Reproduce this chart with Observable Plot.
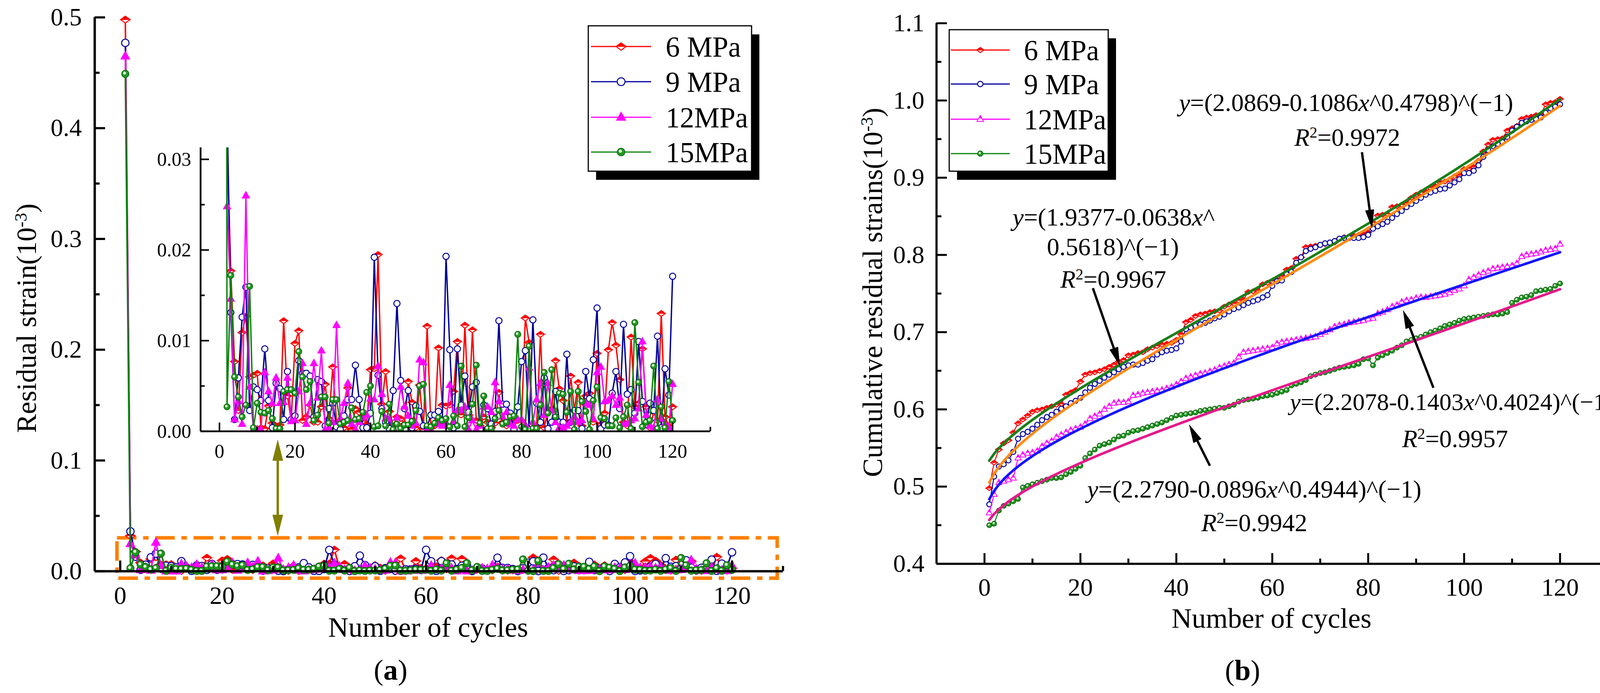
<!DOCTYPE html>
<html><head><meta charset="utf-8">
<script src="https://cdn.jsdelivr.net/npm/d3@7"></script>
<script src="https://cdn.jsdelivr.net/npm/@observablehq/plot@0.6"></script>
<style>
html,body{margin:0;padding:0;background:#fff;}
#page{position:relative;width:4193px;height:1773px;overflow:hidden;background:#fff;font-family:"Liberation Serif","Times New Roman",serif;color:#000;}
</style></head><body><div id="page"></div>
<script>
// ---------------- data ----------------
const cycles = d3.range(1, 121);
const seriesNames = ["6 MPa", "9 MPa", "12MPa", "15MPa"];

// residual strain per cycle (10^-3)
const res6 = [0.498,0.032,0.0177,0.0077,0.0023,0.0109,0.0127,0.0060,0.0062,0.0064,
0.0004,0.0003,0.0028,0.0009,0.0006,0.0007,0.0122,0.0039,0.0012,0.0097,
0.0111,0.0012,0.0016,0.0029,0.0010,0.0010,0.0027,0.0052,0.0014,0.0071,
0.0010,0.0006,0.0004,0.0048,0.0002,0.0025,0.0021,0.0011,0.0008,0.0068,
0.0069,0.0195,0.0030,0.0066,0.0022,0.0006,0.0016,0.0014,0.0008,0.0055,
0.0032,0.0004,0.0051,0.0002,0.0116,0.0004,0.0006,0.0092,0.0029,0.0028,
0.0029,0.0044,0.0099,0.0018,0.0117,0.0018,0.0112,0.0012,0.0006,0.0016,
0.0010,0.0004,0.0009,0.0043,0.0010,0.0006,0.0009,0.0010,0.0012,0.0012,
0.0125,0.0098,0.0002,0.0006,0.0107,0.0004,0.0023,0.0025,0.0078,0.0047,
0.0034,0.0010,0.0061,0.0023,0.0054,0.0006,0.0039,0.0042,0.0010,0.0086,
0.0008,0.0020,0.0090,0.0120,0.0095,0.0057,0.0010,0.0006,0.0104,0.0027,
0.0031,0.0091,0.0027,0.0004,0.0021,0.0012,0.0130,0.0016,0.0006,0.0027];
const res9 = [0.477,0.036,0.0131,0.0013,0.0059,0.0126,0.0159,0.0023,0.0049,0.0046,
0.0034,0.0091,0.0034,0.0004,0.0053,0.0047,0.0013,0.0066,0.0013,0.0017,
0.0078,0.0064,0.0064,0.0061,0.0016,0.0057,0.0055,0.0006,0.0025,0.0031,
0.0005,0.0002,0.0017,0.0035,0.0035,0.0073,0.0035,0.0004,0.0004,0.0020,
0.0192,0.0062,0.0025,0.0010,0.0003,0.0045,0.0141,0.0056,0.0025,0.0045,
0.0004,0.0028,0.0022,0.0006,0.0005,0.0018,0.0018,0.0022,0.0011,0.0193,
0.0090,0.0004,0.0091,0.0029,0.0061,0.0021,0.0049,0.0054,0.0002,0.0029,
0.0025,0.0008,0.0022,0.0122,0.0030,0.0030,0.0020,0.0002,0.0027,0.0077,
0.0089,0.0002,0.0123,0.0031,0.0010,0.0059,0.0003,0.0010,0.0044,0.0010,
0.0010,0.0085,0.0010,0.0023,0.0023,0.0003,0.0066,0.0036,0.0079,0.0136,
0.0003,0.0007,0.0007,0.0042,0.0066,0.0025,0.0118,0.0041,0.0046,0.0020,
0.0099,0.0033,0.0008,0.0031,0.0023,0.0105,0.0004,0.0069,0.0040,0.0171];
const res12 = [0.465,0.0248,0.0146,0.0013,0.0033,0.0008,0.0260,0.0049,0.0002,0.0002,
0.0002,0.0065,0.0044,0.0031,0.0059,0.0031,0.0032,0.0059,0.0011,0.0012,
0.0044,0.0075,0.0008,0.0031,0.0075,0.0037,0.0089,0.0002,0.0004,0.0010,
0.0117,0.0014,0.0031,0.0053,0.0008,0.0002,0.0010,0.0015,0.0018,0.0036,
0.0035,0.0072,0.0041,0.0014,0.0014,0.0004,0.0015,0.0049,0.0027,0.0017,
0.0006,0.0009,0.0079,0.0076,0.0002,0.0002,0.0008,0.0008,0.0006,0.0009,
0.0051,0.0011,0.0023,0.0023,0.0027,0.0002,0.0012,0.0002,0.0006,0.0027,
0.0027,0.0021,0.0054,0.0033,0.0016,0.0021,0.0008,0.0006,0.0013,0.0013,
0.0007,0.0070,0.0010,0.0035,0.0053,0.0018,0.0053,0.0023,0.0010,0.0004,
0.0004,0.0006,0.0010,0.0016,0.0010,0.0012,0.0031,0.0029,0.0014,0.0065,
0.0071,0.0033,0.0034,0.0039,0.0029,0.0037,0.0008,0.0008,0.0012,0.0014,
0.0025,0.0099,0.0018,0.0006,0.0004,0.0035,0.0014,0.0008,0.0004,0.0052];
const res15 = [0.449,0.0027,0.0172,0.0060,0.0038,0.0016,0.0029,0.0160,0.0004,0.0031,
0.0021,0.0020,0.0023,0.0014,0.0003,0.0003,0.0044,0.0046,0.0046,0.0042,
0.0088,0.0060,0.0046,0.0055,0.0012,0.0018,0.0038,0.0038,0.0009,0.0035,
0.0035,0.0008,0.0010,0.0012,0.0026,0.0013,0.0014,0.0021,0.0043,0.0050,
0.0005,0.0006,0.0022,0.0006,0.0030,0.0002,0.0008,0.0003,0.0007,0.0007,
0.0011,0.0023,0.0050,0.0052,0.0006,0.0005,0.0009,0.0015,0.0012,0.0014,
0.0005,0.0017,0.0006,0.0072,0.0005,0.0015,0.0030,0.0073,0.0009,0.0039,
0.0003,0.0003,0.0014,0.0023,0.0008,0.0010,0.0016,0.0017,0.0107,0.0005,
0.0002,0.0094,0.0003,0.0003,0.0029,0.0065,0.0020,0.0068,0.0016,0.0042,
0.0041,0.0021,0.0044,0.0002,0.0044,0.0033,0.0022,0.0002,0.0034,0.0049,
0.0015,0.0014,0.0006,0.0006,0.0015,0.0004,0.0016,0.0029,0.0003,0.0120,
0.0054,0.0005,0.0010,0.0012,0.0072,0.0003,0.0027,0.0004,0.0055,0.0012];

// cumulative residual strain (10^-3)
const cum6 = [0.498,0.531,0.548,0.556,0.560,0.570,0.582,0.587,0.592,0.597,
0.599,0.600,0.602,0.604,0.606,0.607,0.619,0.622,0.625,0.636,
0.645,0.647,0.648,0.650,0.652,0.655,0.658,0.662,0.664,0.670,
0.671,0.673,0.674,0.678,0.680,0.682,0.684,0.685,0.686,0.690,
0.697,0.713,0.716,0.721,0.723,0.724,0.726,0.727,0.728,0.733,
0.736,0.737,0.741,0.742,0.752,0.753,0.754,0.762,0.764,0.766,
0.768,0.772,0.781,0.783,0.795,0.797,0.810,0.811,0.812,0.813,
0.814,0.815,0.816,0.821,0.823,0.824,0.825,0.826,0.827,0.829,
0.842,0.851,0.852,0.853,0.862,0.863,0.865,0.867,0.874,0.878,
0.881,0.882,0.887,0.889,0.894,0.895,0.898,0.902,0.903,0.911,
0.912,0.914,0.922,0.934,0.943,0.949,0.950,0.951,0.961,0.964,
0.967,0.976,0.978,0.979,0.981,0.982,0.995,0.997,0.998,1.002];
const cum9 = [0.477,0.513,0.526,0.529,0.534,0.545,0.562,0.568,0.571,0.575,
0.580,0.586,0.590,0.593,0.597,0.601,0.604,0.608,0.611,0.615,
0.622,0.628,0.633,0.637,0.641,0.645,0.648,0.652,0.655,0.657,
0.658,0.658,0.660,0.663,0.665,0.671,0.674,0.676,0.677,0.679,
0.688,0.704,0.706,0.708,0.710,0.712,0.715,0.718,0.720,0.723,
0.727,0.730,0.732,0.735,0.738,0.740,0.742,0.745,0.748,0.760,
0.766,0.767,0.775,0.778,0.790,0.797,0.805,0.808,0.810,0.813,
0.815,0.816,0.818,0.821,0.822,0.822,0.822,0.822,0.823,0.826,
0.834,0.837,0.840,0.843,0.848,0.853,0.857,0.862,0.866,0.870,
0.874,0.878,0.881,0.883,0.885,0.886,0.890,0.894,0.898,0.906,
0.906,0.909,0.916,0.927,0.936,0.941,0.944,0.946,0.953,0.961,
0.966,0.971,0.973,0.975,0.976,0.978,0.984,0.990,0.992,0.995];
const cum12 = [0.466,0.490,0.505,0.507,0.509,0.511,0.537,0.541,0.543,0.544,
0.546,0.552,0.556,0.559,0.564,0.567,0.570,0.573,0.575,0.577,
0.581,0.588,0.591,0.594,0.600,0.604,0.608,0.609,0.609,0.610,
0.618,0.619,0.621,0.622,0.623,0.624,0.625,0.627,0.629,0.632,
0.636,0.640,0.642,0.644,0.646,0.647,0.649,0.651,0.654,0.656,
0.658,0.660,0.668,0.674,0.675,0.676,0.677,0.678,0.679,0.680,
0.685,0.687,0.688,0.689,0.690,0.691,0.692,0.693,0.694,0.697,
0.700,0.703,0.707,0.709,0.710,0.712,0.713,0.714,0.715,0.717,
0.718,0.724,0.726,0.729,0.733,0.735,0.739,0.741,0.742,0.744,
0.745,0.745,0.746,0.747,0.748,0.749,0.751,0.754,0.756,0.760,
0.768,0.771,0.774,0.777,0.779,0.782,0.783,0.784,0.785,0.786,
0.789,0.798,0.800,0.801,0.802,0.804,0.806,0.807,0.808,0.814];
const cum15 = [0.450,0.452,0.469,0.475,0.478,0.481,0.484,0.499,0.501,0.503,
0.505,0.507,0.509,0.511,0.511,0.512,0.516,0.519,0.523,0.527,
0.537,0.543,0.548,0.553,0.555,0.557,0.561,0.565,0.566,0.570,
0.572,0.573,0.575,0.577,0.579,0.581,0.583,0.586,0.589,0.592,
0.593,0.594,0.595,0.596,0.598,0.599,0.600,0.601,0.602,0.602,
0.604,0.606,0.610,0.612,0.613,0.614,0.615,0.617,0.618,0.619,
0.621,0.623,0.625,0.631,0.633,0.635,0.638,0.643,0.645,0.647,
0.648,0.650,0.652,0.654,0.655,0.656,0.657,0.659,0.665,0.666,
0.657,0.667,0.670,0.673,0.676,0.680,0.683,0.688,0.690,0.692,
0.694,0.697,0.700,0.702,0.705,0.708,0.710,0.712,0.715,0.717,
0.718,0.719,0.720,0.721,0.722,0.723,0.723,0.724,0.726,0.738,
0.742,0.745,0.746,0.748,0.753,0.754,0.755,0.756,0.760,0.763];

// fitted curves y = (a - b x^c)^(-1), as printed on the chart
const fitA = [2.0869, 1.9377, 2.2078, 2.2790];
const fitB = [0.1086, 0.0638, 0.1403, 0.0896];
const fitC = [0.4798, 0.5618, 0.4024, 0.4944];
const fitR2 = ["0.9972", "0.9967", "0.9957", "0.9942"];

// tick values
const xMajor = [0, 20, 40, 60, 80, 100, 120];
const xMinor = [10, 30, 50, 70, 90, 110, 130];
const yMajorA = [0, 0.1, 0.2, 0.3, 0.4, 0.5];
const yMinorA = [0.05, 0.15, 0.25, 0.35, 0.45];
const yMajorInset = [0, 0.01, 0.02, 0.03];
const yMinorInset = [0.005, 0.015, 0.025];
const yMajorB = [0.4, 0.5, 0.6, 0.7, 0.8, 0.9, 1.0, 1.1];
const yMinorB = [0.45, 0.55, 0.65, 0.75, 0.85, 0.95, 1.05];

// ---------------- styles ----------------
const colors = ["#FF0000", "#00009C", "#FF00FF", "#0A820A"];
const kindsA = ["diamond", "circle", "triangle", "ball"];
const kindsB = ["diamond", "circle", "triangleHalf", "ball"];
const fitColors = ["#FF8A14", "#197F19", "#1414FF", "#E5198A"];
const FONT = '"Liberation Serif","Times New Roman",serif';

const rows = (vals) => vals.map((v, i) => ({cycle: cycles[i], value: v}));
const resRows = [res6, res9, res12, res15].map(rows);
const cumRows = [cum6, cum9, cum12, cum15].map(rows);
const fitRows = fitA.map((a, k) => cycles.map(c => ({cycle: c, value: 1 / (a - fitB[k] * Math.pow(c, fitC[k]))})));

const sym = {
  diamond: {draw(c, s) { const r = Math.sqrt(s / Math.PI) * 1.3; c.moveTo(0, -r * 0.72); c.lineTo(r, 0); c.lineTo(0, r * 0.72); c.lineTo(-r, 0); c.closePath(); }},
  diamondTop: {draw(c, s) { const r = Math.sqrt(s / Math.PI) * 1.3; c.moveTo(-r, 0); c.lineTo(0, -r * 0.72); c.lineTo(r, 0); c.closePath(); }},
  triangle: {draw(c, s) { const r = Math.sqrt(s / Math.PI) * 1.35; c.moveTo(0, -r); c.lineTo(r * 0.9, r * 0.6); c.lineTo(-r * 0.9, r * 0.6); c.closePath(); }},
  triangleTop: {draw(c, s) { const r = Math.sqrt(s / Math.PI) * 1.35; c.moveTo(0, -r); c.lineTo(r * 0.45, -r * 0.2); c.lineTo(-r * 0.45, -r * 0.2); c.closePath(); }},
  circle: {draw(c, s) { const r = Math.sqrt(s / Math.PI); c.moveTo(r, 0); c.arc(0, 0, r, 0, 2 * Math.PI); }},
  shine: {draw(c, s) { const r = Math.sqrt(s / Math.PI); const cx = -0.2 * r, cy = -0.22 * r, rr = 0.4 * r; c.moveTo(cx + rr, cy); c.arc(cx, cy, rr, 0, 2 * Math.PI); }}
};

function layers(kind, color) {
  switch (kind) {
    case "diamond": return [[sym.diamond, "#fff", color, 2.5], [sym.diamondTop, color, color, 1.5]];
    case "circle": return [[sym.circle, "#fff", color, 2.5]];
    case "triangle": return [[sym.triangle, color, color, 1.5]];
    case "triangleHalf": return [[sym.triangle, "#fff", color, 2], [sym.triangleTop, color, "none", 0]];
    case "ball": return [[sym.circle, "#1F9A1F", "#0A5A0A", 1.5], [sym.shine, "#E6F5E6", "none", 0]];
  }
}
function markers(data, kind, color, r, extra = {}) {
  return layers(kind, color).map(([s, f, st, sw]) =>
    Plot.dot(data, {x: "cycle", y: "value", r, symbol: s, fill: f, stroke: st, strokeWidth: sw, ...extra}));
}

function axes(o) {
  return [
    Plot.axisX(o.xMajor, {anchor: "bottom", tickSize: -o.majorLen, tickFormat: () => "", strokeWidth: o.sw, label: null}),
    Plot.axisX(o.xMinor, {anchor: "bottom", tickSize: -o.minorLen, tickFormat: () => "", strokeWidth: o.sw, label: null}),
    Plot.axisX(o.xMajor, {anchor: "bottom", tickSize: 0, tickPadding: o.xPad, tickFormat: d => String(d), fontSize: o.fontSize, label: null}),
    Plot.axisY(o.yMajor, {anchor: "left", tickSize: -o.majorLen, tickFormat: () => "", strokeWidth: o.sw, label: null}),
    Plot.axisY(o.yMinor, {anchor: "left", tickSize: -o.minorLen, tickFormat: () => "", strokeWidth: o.sw, label: null}),
    Plot.axisY(o.yMajor, {anchor: "left", tickSize: 0, tickPadding: o.yPad, tickFormat: o.yFmt, fontSize: o.fontSize, label: null})
  ];
}

function arrowMarks(sx, sy, a, color, shaftW, headLen, headW) {
  const P1 = [sx.apply(a.x1), sy.apply(a.y1)], P2 = [sx.apply(a.x2), sy.apply(a.y2)];
  const inv = p => ({x: sx.invert(p[0]), y: sy.invert(p[1])});
  const head = (from, tip) => {
    const dx = tip[0] - from[0], dy = tip[1] - from[1], L = Math.hypot(dx, dy);
    const ux = dx / L, uy = dy / L, nx = -uy, ny = ux;
    const b = [tip[0] - ux * headLen, tip[1] - uy * headLen];
    return {base: b, poly: [tip, [b[0] + nx * headW / 2, b[1] + ny * headW / 2], [b[0] - nx * headW / 2, b[1] - ny * headW / 2], tip].map(inv)};
  };
  const h2 = head(P1, P2);
  let start = P1; const marks = [];
  if (a.double) { const h1 = head(P2, P1); start = h1.base; marks.push(Plot.line(h1.poly, {x: "x", y: "y", fill: color, stroke: color, strokeWidth: 1})); }
  const s = inv(start), e = inv(h2.base);
  marks.unshift(Plot.link([{x1: s.x, y1: s.y, x2: e.x, y2: e.y}], {x1: "x1", y1: "y1", x2: "x2", y2: "y2", stroke: color, strokeWidth: shaftW}));
  marks.push(Plot.line(h2.poly, {x: "x", y: "y", fill: color, stroke: color, strokeWidth: 1}));
  return marks;
}

const page = document.getElementById("page");
function place(svg, left, top) {
  svg.style.position = "absolute"; svg.style.left = left + "px"; svg.style.top = top + "px";
  page.appendChild(svg);
}
const baseStyle = {fontFamily: FONT, background: "transparent", overflow: "visible", maxWidth: "none"};

// ---------------- panel (a) main ----------------
const A = {w: 2060, h: 1773, ml: 242, mr: 56, mt: 44, mb: 312, xd: [-5, 130], yd: [0, 0.5]};
const sxA = Plot.scale({x: {domain: A.xd, range: [A.ml, A.w - A.mr]}});
const syA = Plot.scale({y: {domain: A.yd, range: [A.h - A.mb, A.mt]}});
const zoomBox = [{x1: -0.6, x2: 128.9, y1: -0.0064, y2: 0.030}];
const zoomArrow = {x1: 30.9, y1: 0.1183, x2: 30.9, y2: 0.0325, double: true};

const mainA = Plot.plot({
  width: A.w, height: A.h, marginLeft: A.ml, marginRight: A.mr, marginTop: A.mt, marginBottom: A.mb,
  x: {domain: A.xd, axis: null}, y: {domain: A.yd, axis: null},
  style: baseStyle,
  marks: [
    Plot.rect(zoomBox, {x1: "x1", x2: "x2", y1: "y1", y2: "y2", fill: "none", stroke: "#FF8000", strokeWidth: 9, strokeDasharray: "50,17,14,17"}),
    ...arrowMarks(sxA, syA, zoomArrow, "#7F7F00", 6, 52, 26),
    ...resRows.flatMap((d, k) => [
      Plot.line(d, {x: "cycle", y: "value", stroke: colors[k], strokeWidth: 4}),
      ...markers(d, kindsA[k], colors[k], 9.5)
    ]),
    Plot.ruleX([A.xd[0]], {strokeWidth: 6}),
    Plot.ruleY([A.yd[0]], {strokeWidth: 6}),
    ...axes({xMajor, xMinor, yMajor: yMajorA, yMinor: yMinorA, majorLen: 27, minorLen: 13, sw: 5.5, xPad: 38, yPad: 33, fontSize: 64, yFmt: d3.format(".1f")})
  ]
});
place(mainA, 0, 0);

// ---------------- panel (a) inset ----------------
const I = {w: 1500, h: 950, ml: 113, mr: 82, mt: 77, mb: 147, xd: [-5, 130], yd: [0, 0.0313]};
const inset = Plot.plot({
  width: I.w, height: I.h, marginLeft: I.ml, marginRight: I.mr, marginTop: I.mt, marginBottom: I.mb,
  x: {domain: I.xd, axis: null}, y: {domain: I.yd, axis: null},
  style: baseStyle,
  marks: [
    ...resRows.flatMap((d, k) => [
      Plot.line(d, {x: "cycle", y: "value", stroke: colors[k], strokeWidth: 3.5, clip: true}),
      ...markers(d, kindsA[k], colors[k], 8, {clip: true})
    ]),
    Plot.ruleX([I.xd[0]], {strokeWidth: 4.5}),
    Plot.ruleY([I.yd[0]], {strokeWidth: 4.5}),
    ...axes({xMajor, xMinor, yMajor: yMajorInset, yMinor: yMinorInset, majorLen: 22, minorLen: 11, sw: 4, xPad: 32, yPad: 24, fontSize: 50, yFmt: d3.format(".2f")})
  ]
});
place(inset, 400, 300);

// ---------------- panel (b) ----------------
const B = {left: 2150, w: 2043, h: 1773, ml: 247, mr: 77, mt: 59, mb: 331, xd: [-10, 130], yd: [0.4, 1.1]};
const sxB = Plot.scale({x: {domain: B.xd, range: [B.ml, B.w - B.mr]}});
const syB = Plot.scale({y: {domain: B.yd, range: [B.h - B.mb, B.mt]}});
const fitArrows = [
  {x1: 78.7, y1: 0.933, x2: 80.8, y2: 0.835},
  {x1: 22.6, y1: 0.757, x2: 28.2, y2: 0.657},
  {x1: 93.6, y1: 0.628, x2: 87.3, y2: 0.728},
  {x1: 47.0, y1: 0.527, x2: 42.7, y2: 0.580}
];
const panelB = Plot.plot({
  width: B.w, height: B.h, marginLeft: B.ml, marginRight: B.mr, marginTop: B.mt, marginBottom: B.mb,
  x: {domain: B.xd, axis: null}, y: {domain: B.yd, axis: null},
  style: baseStyle,
  marks: [
    ...cumRows.flatMap((d, k) => [
      Plot.line(d, {x: "cycle", y: "value", stroke: colors[k], strokeWidth: 2.5}),
      ...markers(d, kindsB[k], colors[k], 6.5)
    ]),
    ...fitRows.map((d, k) => Plot.line(d, {x: "cycle", y: "value", stroke: fitColors[k], strokeWidth: 6.5})),
    ...fitArrows.flatMap(a => arrowMarks(sxB, syB, a, "#000", 6, 46, 22)),
    Plot.ruleX([B.xd[0]], {strokeWidth: 5.5}),
    Plot.ruleY([B.yd[0]], {strokeWidth: 5.5}),
    ...axes({xMajor, xMinor, yMajor: yMajorB, yMinor: yMinorB, majorLen: 27, minorLen: 13, sw: 5, xPad: 36, yPad: 31, fontSize: 64, yFmt: d3.format(".1f")})
  ]
});
place(panelB, B.left, 0);

// ---------------- overlay: legends and text ----------------
const ov = d3.select(page).append("svg").attr("width", 4193).attr("height", 1773)
  .style("position", "absolute").style("left", "0px").style("top", "0px");
function drawLegend(L, kinds) {
  const g = ov.append("g");
  g.append("rect").attr("x", L.x + 20).attr("y", L.y + 22).attr("width", L.w).attr("height", L.h).attr("fill", "#000");
  g.append("rect").attr("x", L.x).attr("y", L.y).attr("width", L.w).attr("height", L.h).attr("fill", "#fff").attr("stroke", "#000").attr("stroke-width", 3);
  seriesNames.forEach((name, k) => {
    const cy = L.rows[k];
    g.append("line").attr("x1", L.l0).attr("x2", L.l1).attr("y1", cy).attr("y2", cy).attr("stroke", colors[k]).attr("stroke-width", 3);
    layers(kinds[k], colors[k]).forEach(([s, f, st, sw]) => {
      g.append("path").attr("transform", `translate(${(L.l0 + L.l1) / 2},${cy})`)
        .attr("d", d3.symbol(s, L.r * L.r * Math.PI)()).attr("fill", f).attr("stroke", st).attr("stroke-width", sw);
    });
    g.append("text").attr("x", L.tx).attr("y", cy).attr("dy", "0.35em").attr("font-family", FONT).attr("font-size", 73).text(name);
  });
}
drawLegend({x: 1506, y: 66, w: 418, h: 372, rows: [119, 209, 300, 389], l0: 1513, l1: 1667, tx: 1704, r: 10}, kindsA);
drawLegend({x: 2430, y: 76, w: 407, h: 362, rows: [128, 215, 305, 393], l0: 2434, l1: 2585, tx: 2621, r: 7}, kindsB);

// rich text: segments [text, style] with style "i", "b", "sup" or ""
function rich(segs, x, y, size, opts = {}) {
  const t = ov.append("text").attr("x", x).attr("y", y).attr("dy", "0.35em")
    .attr("text-anchor", opts.anchor || "middle").attr("font-family", FONT).attr("font-size", size).attr("fill", "#000");
  if (opts.rotate) t.attr("transform", `rotate(-90 ${x} ${y})`);
  let shift = 0;
  segs.forEach(([s, st]) => {
    const ts = t.append("tspan").text(s);
    if (st === "i") ts.attr("font-style", "italic");
    if (st === "b") ts.attr("font-weight", "bold");
    if (st === "sup") { ts.attr("font-size", size * 0.62).attr("dy", -size * 0.33); shift = size * 0.33; }
    else if (shift) { ts.attr("dy", shift); shift = 0; }
  });
  return t;
}
rich([["Residual strain(10", ""], ["-3", "sup"], [")", ""]], 67, 814, 72, {rotate: true});
rich([["Number of cycles", ""]], 1096, 1604, 72);
rich([["(", ""], ["a", "b"], [")", ""]], 1000, 1713, 74);
rich([["Cumulative residual strains(10", ""], ["-3", "sup"], [")", ""]], 2233, 748, 72, {rotate: true});
rich([["Number of cycles", ""]], 3255, 1581, 72);
rich([["(", ""], ["b", "b"], [")", ""]], 3181, 1714, 74);

const eq = (k) => [["y", "i"], [`=(${fitA[k].toFixed(4)}-${fitB[k].toFixed(4)}`, ""], ["x", "i"], [`^${fitC[k].toFixed(4)})^(\u22121)`, ""]];
const r2 = k => [["R", "i"], ["2", "sup"], ["=" + fitR2[k], ""]];
rich(eq(0), 3446, 262, 64);
rich(r2(0), 3449, 351, 64);
rich([["y", "i"], [`=(${fitA[1].toFixed(4)}-${fitB[1].toFixed(4)}`, ""], ["x", "i"], ["^", ""]], 2851, 555, 64);
rich([[`${fitC[1].toFixed(4)})^(\u22121)`, ""]], 2849, 631, 64);
rich(r2(1), 2850, 714, 64);
// this line sits close to the right edge of the figure: start it where the original does
rich(eq(2), 3302, 1027, 62, {anchor: "start"});
rich(r2(2), 3725, 1122, 64);
rich(eq(3), 3211, 1251, 64);
rich(r2(3), 3211, 1337, 64);
</script></body></html>
